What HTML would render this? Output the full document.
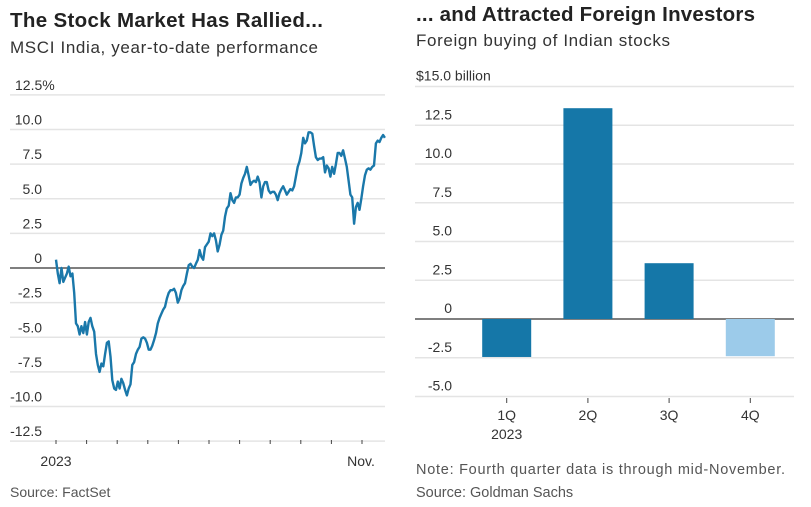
<!DOCTYPE html>
<html><head><meta charset="utf-8">
<style>
html,body{margin:0;padding:0;background:#fff;}
body{width:811px;height:502px;overflow:hidden;font-family:"Liberation Sans",sans-serif;}
svg text{font-family:"Liberation Sans",sans-serif;}
</style></head>
<body>
<svg id="chart" width="811" height="502" viewBox="0 0 811 502">
  <text x="10" y="27" font-size="20.5" font-weight="bold" fill="#222" textLength="313">The Stock Market Has Rallied...</text>
  <text x="10" y="53" font-size="17" fill="#333" textLength="308">MSCI India, year-to-date performance</text>
  <text x="416" y="21" font-size="20.5" font-weight="bold" fill="#222" textLength="339">... and Attracted Foreign Investors</text>
  <text x="416" y="46" font-size="17" fill="#333" textLength="254">Foreign buying of Indian stocks</text>
  <g id="left"></g>
  <g id="right"></g>
  <text x="10" y="497" font-size="14" fill="#555">Source: FactSet</text>
  <text x="416" y="474" font-size="14.5" fill="#555" textLength="369">Note: Fourth quarter data is through mid-November.</text>
  <text x="416" y="497" font-size="14.5" fill="#555">Source: Goldman Sachs</text>
</svg>
<script>
const lineTicks=[12.5,10,7.5,5,2.5,0,-2.5,-5,-7.5,-10,-12.5];
const lineTickLabels=["12.5%","10.0","7.5","5.0","2.5","0","-2.5","-5.0","-7.5","-10.0","-12.5"];
const monthTicks=[0,1,2,3,4,5,6,7,8,9,10];
const msciValues=[0.6,-0.4,-1.1,0.0,-1.0,-0.7,-0.4,0.1,-0.6,-0.4,-1.8,-4.0,-4.2,-4.8,-4.2,-4.7,-3.9,-4.8,-3.9,-3.6,-4.2,-4.6,-6.2,-7.0,-7.5,-6.9,-7.1,-6.2,-5.4,-5.3,-6.4,-8.1,-8.7,-8.8,-8.2,-8.7,-8.0,-8.3,-8.8,-9.2,-8.7,-8.4,-7.0,-6.8,-6.2,-5.9,-5.7,-5.1,-5.0,-5.1,-5.4,-5.9,-5.9,-5.6,-5.2,-4.7,-4.0,-3.6,-3.3,-3.0,-2.8,-2.2,-1.8,-1.6,-1.6,-1.5,-1.8,-2.5,-2.2,-1.6,-1.3,-1.1,-0.4,0.2,0.3,0.1,0.0,0.3,0.6,1.3,0.8,0.6,1.5,1.7,1.9,2.5,2.3,2.5,2.0,1.2,1.7,2.4,2.7,3.7,4.3,4.5,5.4,4.9,4.7,5.1,5.1,5.3,6.1,6.5,6.8,7.3,6.7,6.0,6.2,6.3,6.2,6.6,6.2,5.1,5.9,6.2,6.2,5.6,5.4,5.5,5.5,5.3,4.9,5.4,5.7,5.9,5.6,5.3,5.5,5.7,5.6,5.9,6.6,7.3,7.7,8.3,9.4,9.0,9.2,9.8,9.8,9.7,8.8,8.0,7.8,7.9,7.9,8.0,6.9,7.4,7.2,6.6,7.3,6.8,7.5,8.3,8.3,8.1,8.5,7.9,7.3,6.3,5.3,5.1,3.2,4.4,4.7,4.2,5.0,5.9,6.7,7.1,7.2,7.1,7.3,7.4,9.0,9.2,9.1,9.4,9.6,9.4];
const barCategories=["1Q","2Q","3Q","4Q"];
const barValues=[-2.45,13.6,3.6,-2.4];
const barTicks=[15,12.5,10,7.5,5,2.5,0,-2.5,-5];
const barTickLabels=["$15.0 billion","12.5","10.0","7.5","5.0","2.5","0","-2.5","-5.0"];

const NS="http://www.w3.org/2000/svg";
function mk(parent,tag,attrs,text){const e=document.createElementNS(NS,tag);for(const k in attrs)e.setAttribute(k,attrs[k]);if(text!==undefined)e.textContent=text;parent.appendChild(e);return e;}

const L=document.getElementById('left');
const ly=v=>268-v*13.85;
const monthX=m=>56+m*30.6;
const endMonth=10.75;
const lx=i=>monthX(i/(msciValues.length-1)*endMonth);
lineTicks.forEach((t,i)=>{
  const g=mk(L,'line',{x1:10,x2:385,y1:ly(t),y2:ly(t),stroke:t===0?'#333':'#e4e4e4','stroke-width':t===0?1.2:1.5});
  
  
  const tx=mk(L,'text',{x:t===12.5?15:42,y:ly(t)-5,'font-size':14,fill:'#333','text-anchor':t===12.5?'start':'end'},lineTickLabels[i]);
  
  
});
monthTicks.forEach(m=>{
  const t=mk(L,'line',{x1:monthX(m),x2:monthX(m),y1:440,y2:444,stroke:'#444','stroke-width':1});
  
  
});
const xl1=mk(L,'text',{x:56,y:466,'font-size':14,fill:'#333','text-anchor':'middle'},'2023');


const xl2=mk(L,'text',{x:361,y:466,'font-size':14,fill:'#333','text-anchor':'middle'},'Nov.');


const pts=msciValues.map((v,i)=>lx(i).toFixed(1)+','+ly(v).toFixed(1)).join(' ');
const pl=mk(L,'polyline',{points:pts,fill:'none',stroke:'#1a78aa','stroke-width':2.4,'stroke-linejoin':'round'});



const R=document.getElementById('right');
const by=v=>319-v*15.5;
const bx=i=>506.7+i*81.2;
barTicks.forEach((t,i)=>{
  const g=mk(R,'line',{x1:415,x2:794,y1:by(t),y2:by(t),stroke:t===0?'#333':'#e4e4e4','stroke-width':t===0?1.2:1.5});
  
  
  const tx=mk(R,'text',{x:t===15?416:452,y:by(t)-6,'font-size':14,fill:'#333','text-anchor':t===15?'start':'end'},barTickLabels[i]);
  
  
});
barValues.forEach((v,i)=>{
  const y0=by(Math.max(v,0)),y1=by(Math.min(v,0));
  const r=mk(R,'rect',{x:bx(i)-24.5,y:y0,width:49,height:y1-y0,fill:i===3?'#9ccbea':'#1577a8'});
  
  
  const t=mk(R,'line',{x1:bx(i),x2:bx(i),y1:398,y2:403,stroke:'#444','stroke-width':1});
  
  
  const l=mk(R,'text',{x:bx(i),y:420,'font-size':14,fill:'#333','text-anchor':'middle'},barCategories[i]);
  
  
});
const yr=mk(R,'text',{x:bx(0),y:439,'font-size':14,fill:'#333','text-anchor':'middle'},'2023');


</script>
</body></html>
